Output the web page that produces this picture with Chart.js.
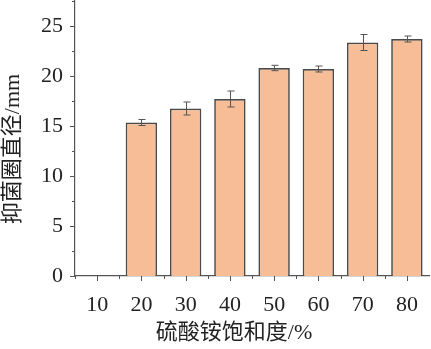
<!DOCTYPE html>
<html>
<head>
<meta charset="utf-8">
<script src="https://cdn.jsdelivr.net/npm/chart.js@4/dist/chart.umd.min.js"></script>
<style>
  html, body { margin: 0; padding: 0; background: #fff; }
  #wrap { width: 431px; height: 349px; position: relative; }
</style>
</head>
<body>
<div id="wrap"><canvas id="chart"></canvas></div>
<script>
// saturation of ammonium sulfate (%)
const categories = ['10', '20', '30', '40', '50', '60', '70', '80'];
// inhibition zone diameter (mm), 10% has no zone
const diameters = [null, 15.35, 16.75, 17.7, 20.8, 20.7, 23.35, 23.7];
const errors = [0, 0.3, 0.65, 0.8, 0.27, 0.3, 0.8, 0.3];
const yTicks = [0, 5, 10, 15, 20, 25];

const xTitle = '硫酸铵饱和度/%';
const yTitle = '抑菌圈直径/mm';

const serif = "'Liberation Serif', 'Noto Sans CJK SC', serif";
const axisColor = '#555';

// error bars drawn on top of the bars
const errorBars = {
    id: 'errorBars',
    afterDatasetsDraw(chart) {
        const ctx = chart.ctx;
        const x = chart.scales.x, y = chart.scales.y;
        ctx.save();
        ctx.strokeStyle = '#555';
        ctx.lineWidth = 1;
        diameters.forEach(function(v, i) {
            if (v === null) return;
            const px = Math.round(x.getPixelForValue(i)) + 0.5;
            const top = y.getPixelForValue(v + errors[i]);
            const bot = y.getPixelForValue(v - errors[i]);
            ctx.beginPath();
            ctx.moveTo(px, top); ctx.lineTo(px, bot);
            ctx.moveTo(px - 3, top); ctx.lineTo(px + 4, top);
            ctx.moveTo(px - 3, bot); ctx.lineTo(px + 4, bot);
            ctx.stroke();
        });
        ctx.restore();
    }
};

// outward major / minor tick marks + axis titles
const axisDecor = {
    id: 'axisDecor',
    afterDraw(chart) {
        const ctx = chart.ctx;
        const x = chart.scales.x, y = chart.scales.y;
        const area = chart.chartArea;
        ctx.save();
        ctx.strokeStyle = axisColor;
        ctx.lineWidth = 1;
        ctx.beginPath();
        for (let v = 0; v <= 27.5; v += 2.5) {
            const py = Math.round(y.getPixelForValue(v)) + 0.5;
            const len = (v % 5 === 0) ? 5 : 3;
            ctx.moveTo(area.left - len, py); ctx.lineTo(area.left, py);
        }
        for (let i = 0; i < categories.length; i++) {
            const px = Math.round(x.getPixelForValue(i)) + 0.5;
            ctx.moveTo(px, area.bottom); ctx.lineTo(px, area.bottom + 5);
            const edge = Math.round(x.getPixelForValue(i - 0.5)) + 0.5;
            ctx.moveTo(edge, area.bottom); ctx.lineTo(edge, area.bottom + 3);
        }
        // x axis sticks out a little to the left of the y axis
        const by = Math.round(area.bottom) + 0.5;
        ctx.moveTo(area.left - 5, by); ctx.lineTo(area.left, by);
        ctx.stroke();

        // axis titles
        ctx.fillStyle = '#222';
        ctx.font = '22px ' + serif;
        ctx.textAlign = 'center';
        ctx.textBaseline = 'middle';
        ctx.fillText(xTitle, 234, 333);
        ctx.translate(13, 149);
        ctx.rotate(-Math.PI / 2);
        ctx.fillText(yTitle, 0, 0);
        ctx.restore();
    }
};

new Chart(document.getElementById('chart'), {
    type: 'bar',
    data: {
        labels: categories,
        datasets: [{
            data: diameters,
            backgroundColor: '#F6BD96',
            borderColor: '#4a4a4a',
            borderWidth: 1.7,
            barPercentage: 0.71,
            categoryPercentage: 1
        }]
    },
    options: {
        responsive: true,
        maintainAspectRatio: false,
        animation: false,
        layout: { padding: { top: 1, right: 2, left: 0, bottom: 0 } },
        plugins: {
            legend: { display: false },
            tooltip: { enabled: false }
        },
        scales: {
            x: {
                offset: true,
                grid: { display: false, drawTicks: false },
                border: { display: true, color: axisColor, width: 1.2 },
                ticks: {
                    color: '#222',
                    padding: 16,
                    font: { family: serif, size: 22 }
                },
                afterFit: function(scale) {
                    scale.height = 73;
                    scale.paddingLeft = 0;
                    scale.paddingRight = 0;
                }
            },
            y: {
                min: 0,
                max: 27.5,
                afterBuildTicks: function(scale) {
                    scale.ticks = yTicks.map(function(v) { return { value: v }; });
                },
                grid: { display: false, drawTicks: false },
                border: { display: true, color: axisColor, width: 1.2 },
                ticks: {
                    color: '#222',
                    padding: 12,
                    font: { family: serif, size: 22 }
                },
                afterFit: function(scale) {
                    scale.width = 75;
                    scale.paddingTop = 0;
                    scale.paddingBottom = 0;
                }
            }
        }
    },
    plugins: [errorBars, axisDecor]
});
</script>
</body>
</html>
